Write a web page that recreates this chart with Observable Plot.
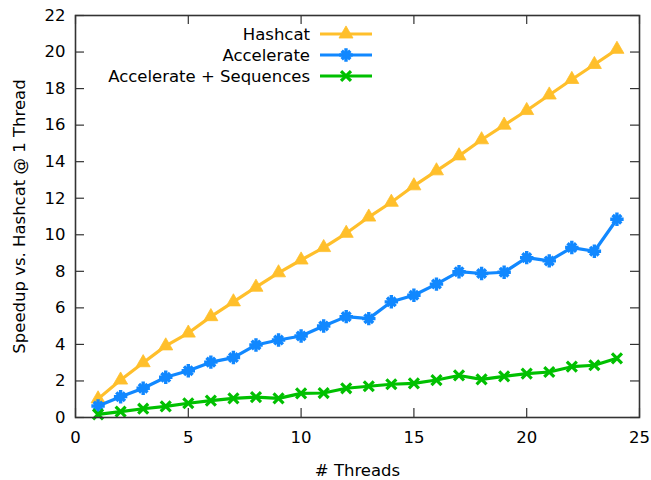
<!DOCTYPE html>
<html><head><meta charset="utf-8">
<script src="https://cdn.jsdelivr.net/npm/d3@7"></script>
<script src="https://cdn.jsdelivr.net/npm/@observablehq/plot@0.6"></script>
<style>
html,body{margin:0;padding:0;background:#fff;}
#chart{position:relative;width:651px;height:480px;}
#legend{position:absolute;left:0;top:0;pointer-events:none;}
</style></head><body><div id="chart"></div>
<script>
const threads = [1,2,3,4,5,6,7,8,9,10,11,12,13,14,15,16,17,18,19,20,21,22,23,24];
const hashcat = [1.02,2.05,3.0,3.92,4.62,5.52,6.33,7.13,7.92,8.62,9.3,10.08,10.97,11.78,12.68,13.5,14.32,15.2,16.0,16.8,17.65,18.5,19.32,20.15];
const accelerate = [0.63,1.14,1.6,2.2,2.56,3.03,3.28,3.97,4.24,4.46,5.01,5.52,5.41,6.33,6.69,7.3,7.98,7.88,7.95,8.75,8.57,9.3,9.1,10.85];
const sequences = [0.17,0.32,0.48,0.61,0.78,0.92,1.05,1.12,1.05,1.32,1.34,1.6,1.71,1.82,1.87,2.05,2.3,2.09,2.25,2.4,2.49,2.78,2.86,3.24];
const seriesNames = ["Hashcat","Accelerate","Accelerate + Sequences"];
const seriesColors = ["#ffbf2b","#1188ff","#00c000"];
const xTicks = [0,5,10,15,20,25];
const yTicks = [0,2,4,6,8,10,12,14,16,18,20,22];
const xLabel = "# Threads";
const yLabel = "Speedup vs. Hashcat @ 1 Thread";

const seriesValues = [hashcat, accelerate, sequences];
const rows = seriesValues.flatMap((vals, i) => threads.map((t, j) => ({threads: t, value: vals[j], series: seriesNames[i]})));
const bySeries = name => rows.filter(r => r.series === name);

const W = 651, H = 480, mL = 75, mR = 12, mT = 15, mB = 63;
const innerH = H - mT - mB, innerW = W - mL - mR, tickLen = 9;
const font = "DejaVu Sans";

const markFor = (name, i) => {
  const d = bySeries(name);
  const c = seriesColors[i];
  const m = [Plot.line(d, {x: "threads", y: "value", stroke: c, strokeWidth: 3.2})];
  if (i === 0) m.push(Plot.dot(d, {x: "threads", y: "value", symbol: "triangle", r: 5.2, fill: c, stroke: c, strokeWidth: 0.8}));
  if (i === 1) {
    m.push(Plot.dot(d, {x: "threads", y: "value", symbol: "square", r: 3.2, fill: c, stroke: c, strokeWidth: 1}));
    m.push(Plot.dot(d, {x: "threads", y: "value", symbol: "plus", r: 4.4, stroke: c, strokeWidth: 3.4}));
    m.push(Plot.dot(d, {x: "threads", y: "value", symbol: "times", r: 4.0, stroke: c, strokeWidth: 3.4}));
  }
  if (i === 2) m.push(Plot.dot(d, {x: "threads", y: "value", symbol: "times", r: 4.6, stroke: c, strokeWidth: 3.2}));
  return m;
};

const chart = Plot.plot({
  width: W, height: H, marginLeft: mL, marginRight: mR, marginTop: mT, marginBottom: mB,
  style: {fontFamily: font, fontSize: "16.5px", color: "#000", background: "#fff"},
  x: {domain: [0, 25]},
  y: {domain: [0, 22]},
  marks: [
    Plot.ruleX(xTicks, {insetTop: innerH - tickLen, stroke: "#333", strokeWidth: 1.2}),
    Plot.ruleX(xTicks, {insetBottom: innerH - tickLen, stroke: "#333", strokeWidth: 1.2}),
    Plot.ruleY(yTicks, {insetRight: innerW - tickLen, stroke: "#333", strokeWidth: 1.2}),
    Plot.ruleY(yTicks, {insetLeft: innerW - tickLen, stroke: "#333", strokeWidth: 1.2}),
    Plot.axisX({ticks: xTicks, tickSize: 0, tickPadding: 14, label: null, fontSize: 16.5}),
    Plot.axisY({ticks: yTicks, tickSize: 0, tickPadding: 10, label: null, fontSize: 16.5}),
    Plot.text([xLabel], {frameAnchor: "bottom", dy: 53.5, lineAnchor: "middle", textAnchor: "middle", fontSize: 16.5, fill: "#000"}),
    Plot.text([yLabel], {frameAnchor: "left", dx: -56, rotate: -90, lineAnchor: "middle", textAnchor: "middle", fontSize: 16.5, fill: "#000"}),
    ...seriesNames.flatMap((n, i) => markFor(n, i)),
    Plot.frame({stroke: "#333", strokeWidth: 1.6})
  ]
});
const host = document.getElementById("chart");
host.appendChild(chart);

// legend overlay (gnuplot-style key)
const key = {textRight: 310, lineX1: 320, lineX2: 372, top: 34, step: 21};
const svg = d3.select(host).append("svg").attr("id", "legend").attr("width", W).attr("height", H)
  .style("font-family", font).style("font-size", "16.5px");
const markSize = r => Math.PI * r * r;
seriesNames.forEach((name, i) => {
  const y = key.top + i * key.step;
  const c = seriesColors[i];
  const g = svg.append("g");
  g.append("text").attr("x", key.textRight).attr("y", y).attr("dy", "0.36em").attr("text-anchor", "end").attr("fill", "#000").text(name);
  g.append("line").attr("x1", key.lineX1).attr("x2", key.lineX2).attr("y1", y).attr("y2", y).attr("stroke", c).attr("stroke-width", 3.2);
  const cx = (key.lineX1 + key.lineX2) / 2;
  const at = `translate(${cx},${y})`;
  if (i === 0) g.append("path").attr("transform", at).attr("d", d3.symbol(d3.symbolTriangle, markSize(5.2))()).attr("fill", c).attr("stroke", c).attr("stroke-width", 0.8);
  if (i === 1) {
    g.append("path").attr("transform", at).attr("d", d3.symbol(d3.symbolSquare, markSize(3.2))()).attr("fill", c).attr("stroke", c).attr("stroke-width", 1);
    g.append("path").attr("transform", at).attr("d", d3.symbol(d3.symbolPlus, markSize(4.4))()).attr("fill", "none").attr("stroke", c).attr("stroke-width", 3.4);
    g.append("path").attr("transform", at).attr("d", d3.symbol(d3.symbolTimes, markSize(4.0))()).attr("fill", "none").attr("stroke", c).attr("stroke-width", 3.4);
  }
  if (i === 2) g.append("path").attr("transform", at).attr("d", d3.symbol(d3.symbolTimes, markSize(4.6))()).attr("fill", "none").attr("stroke", c).attr("stroke-width", 3.2);
});
</script></body></html>
